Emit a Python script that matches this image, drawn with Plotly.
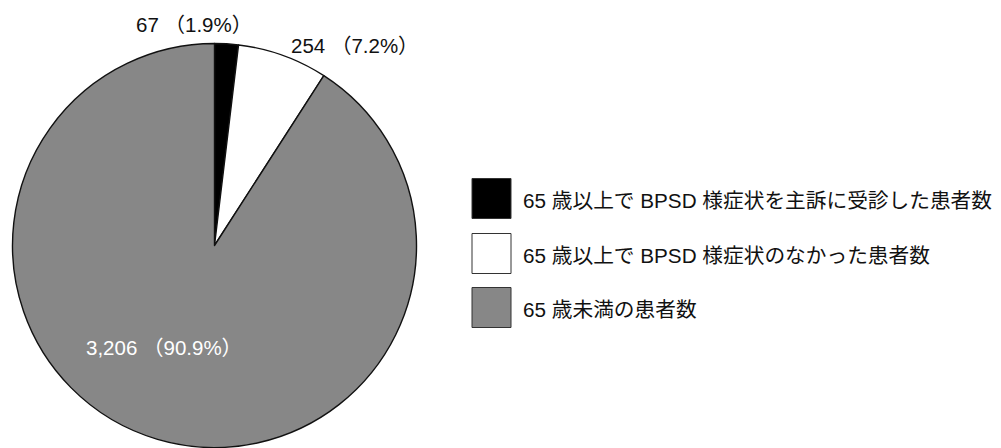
import plotly.graph_objects as go

# Patient counts by group
labels = [
    "65 歳以上で BPSD 様症状を主訴に受診した患者数",
    "65 歳以上で BPSD 様症状のなかった患者数",
    "65 歳未満の患者数",
]
counts = [67, 254, 3206]
colors = ["#000000", "#ffffff", "#878787"]
label_colors = ["#111111", "#111111", "#ffffff"]

W, H = 1001, 448
# Latin glyphs from an Arial-like face, Japanese glyphs from Noto CJK
FONT = "Liberation Sans, Noto Sans CJK JP, sans-serif"

# Pie geometry in pixels (centre and radius)
cx, cy, r = 214.5, 245.5, 202.0

fig = go.Figure(
    go.Pie(
        labels=labels,
        values=counts,
        sort=False,
        direction="clockwise",
        rotation=0,
        marker=dict(colors=colors, line=dict(color="#111111", width=1.4)),
        textinfo="none",
        hoverinfo="label+value+percent",
        showlegend=False,
        domain=dict(
            x=[(cx - r) / W, (cx + r) / W],
            y=[(H - cy - r) / H, (H - cy + r) / H],
        ),
    )
)

total = sum(counts)
# Value labels: count with share of the total
label_pos = [(194, 25), (355, 45), (164, 347)]
annotations = []
for n, (px, py), col in zip(counts, label_pos, label_colors):
    pct = n / total * 100
    annotations.append(
        dict(
            x=px / W, y=1 - py / H, xref="paper", yref="paper",
            text=f"{n:,} （{pct:.1f}%）",
            showarrow=False, xanchor="center", yanchor="middle",
            font=dict(family=FONT, size=20.5, color=col),
        )
    )

# Custom legend: large swatches with labels
shapes = []
row_centers = [198.5, 253.5, 307.5]
for lab, col, yc in zip(labels, colors, row_centers):
    shapes.append(
        dict(
            type="rect", xref="paper", yref="paper",
            x0=472 / W, x1=511 / W,
            y0=1 - (yc + 20) / H, y1=1 - (yc - 20) / H,
            fillcolor=col, line=dict(color="#333333", width=1),
        )
    )
    annotations.append(
        dict(
            x=521 / W, y=1 - (yc + 2) / H, xref="paper", yref="paper",
            text=lab, showarrow=False, xanchor="left", yanchor="middle",
            font=dict(family=FONT, size=20.7, color="#111111"),
        )
    )

fig.update_layout(
    width=W, height=H,
    margin=dict(l=0, r=0, t=0, b=0),
    paper_bgcolor="#ffffff",
    plot_bgcolor="#ffffff",
    annotations=annotations,
    shapes=shapes,
)

fig.write_html("out.html")
